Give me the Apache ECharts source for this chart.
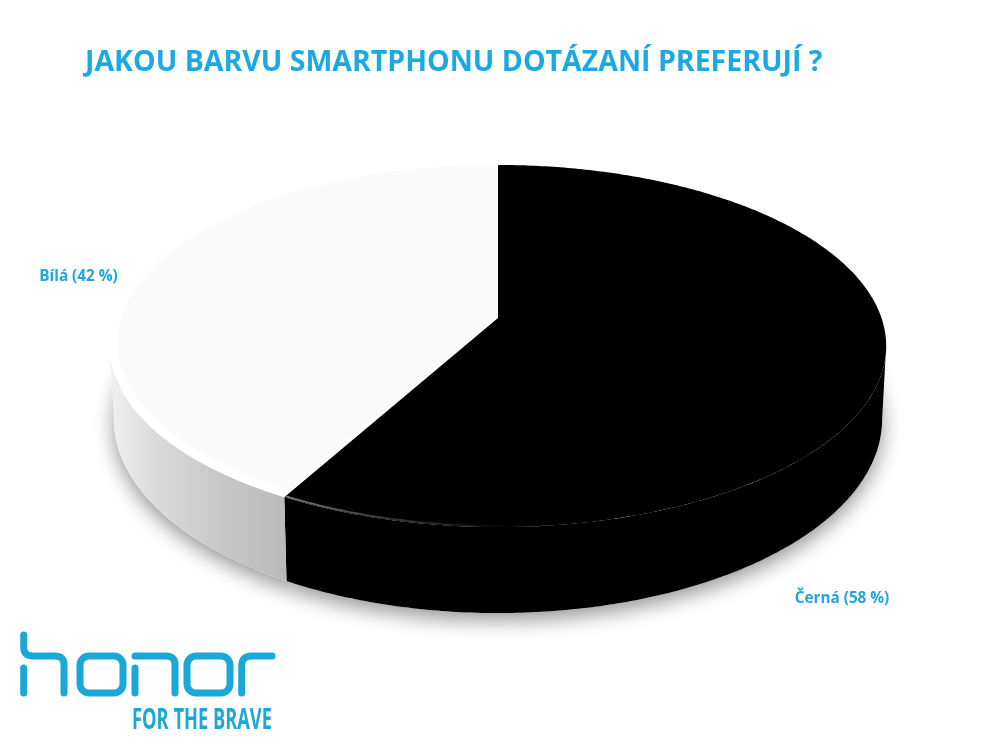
<!DOCTYPE html>
<html>
<head>
<meta charset="utf-8">
<style>html,body{margin:0;padding:0;background:#fff}#c{width:997px;height:751px}</style>
<script src="https://cdn.jsdelivr.net/npm/echarts@6/dist/echarts.min.js"></script>
</head>
<body>
<div id="c"></div>
<script>
const titleText = 'JAKOU BARVU SMARTPHONU DOTÁZANÍ PREFERUJÍ ?';
const categories = ['Černá', 'Bílá'];
const shares = [58, 42];
const logoWord = 'FOR THE BRAVE';

const BLUE = '#1aa9e2';
const TOP = { x0: 498, y0: 318, a: 383.5, b: 176.7, k: 0.1547 };
const BOTTOM = { x0: 498, y0: 389, a: 379.5, b: 189.4, k: 0.1547 };
const LABEL_POS = [[842, 598.5], [78.5, 276.5]];
const total = shares.reduce((s, v) => s + v, 0);
const SIDE_R = Math.acos(-TOP.k), SIDE_L = 2 * Math.PI - SIDE_R;

function project(p, theta, r) {
  const u = r * Math.sin(theta), v = -r * Math.cos(theta);
  const w = 1 - p.k * v;
  return [p.x0 + p.a * u / w, p.y0 + p.b * v / w];
}
function arc(p, t0, t1, r) {
  const n = Math.max(4, Math.ceil(Math.abs(t1 - t0) * 90)), out = [];
  for (let i = 0; i <= n; i++) out.push(project(p, t0 + (t1 - t0) * i / n, r));
  return out;
}
function grad(x0, x1, stops) {
  return new echarts.graphic.LinearGradient(x0, 0, x1, 0,
    stops.map(s => ({ offset: s[0], color: s[1] })), true);
}
function renderSlice(params, api) {
  const i = params.dataIndex;
  const before = shares.slice(0, i).reduce((s, v) => s + v, 0);
  const t0 = before / total * 2 * Math.PI;
  const t1 = (before + api.value(0)) / total * 2 * Math.PI;
  const w0 = Math.max(t0, SIDE_R), w1 = Math.min(t1, SIDE_L);
  const apexTop = [TOP.x0, TOP.y0], apexBot = [BOTTOM.x0, BOTTOM.y0];
  const isBlack = i === 0;
  const children = [];
  children.push({
    type: 'polygon', z2: 1,
    shape: { points: [apexBot].concat(arc(BOTTOM, t0, t1, 1)) },
    style: { fill: '#fff', shadowColor: 'rgba(0,0,0,0.42)', shadowBlur: 20, shadowOffsetY: 7, shadowOffsetX: 0 }
  });
  children.push({
    type: 'polygon', z2: 2,
    shape: { points: arc(TOP, w0, w1, 1).concat(arc(BOTTOM, w1, w0, 1)) },
    style: {
      fill: isBlack ? '#000' : grad(112, 289, [[0, '#f0f0f0'], [0.25, '#dadada'], [0.6, '#c8c8c8'], [1, '#b9b9b9']])
    }
  });
  children.push({
    type: 'polygon', z2: isBlack ? 5 : 3,
    shape: { points: [apexTop].concat(arc(TOP, t0, t1, 1)) },
    style: { fill: isBlack ? '#000' : '#fff' }
  });
  if (isBlack) {
    children.push({
      type: 'polyline', z2: 6,
      shape: { points: arc(TOP, t1, Math.PI * 0.93, 0.995) },
      style: { fill: 'none', lineWidth: 1.8, stroke: grad(287, 520, [[0, '#7a7a7a'], [0.4, '#3a3a3a'], [1, '#000']]) }
    });
  } else {
    const inner = [apexTop].concat(arc(TOP, t0, t1, 0.98)).map(q => [q[0], q[1] - 3]);
    children.push({
      type: 'polygon', z2: 4,
      shape: { points: inner },
      style: { fill: '#fafafa' }
    });
  }
  children.push({
    type: 'text', z2: 7,
    style: {
      x: LABEL_POS[i][0], y: LABEL_POS[i][1],
      text: categories[i] + ' (' + api.value(0) + ' %)',
      fill: '#22a5dc', align: 'center', verticalAlign: 'middle',
      font: 'bold 15.3px "Open Sans", sans-serif'
    }
  });
  return { type: 'group', children };
}

function rounded(pts, r) {
  const out = [pts[0]];
  for (let i = 1; i < pts.length - 1; i++) {
    const [a, b, c] = [pts[i - 1], pts[i], pts[i + 1]];
    const d1 = Math.hypot(a[0] - b[0], a[1] - b[1]), d2 = Math.hypot(c[0] - b[0], c[1] - b[1]);
    const s = [b[0] + (a[0] - b[0]) * r / d1, b[1] + (a[1] - b[1]) * r / d1];
    const e = [b[0] + (c[0] - b[0]) * r / d2, b[1] + (c[1] - b[1]) * r / d2];
    for (let j = 0; j <= 8; j++) {
      const t = j / 8, m = 1 - t;
      out.push([m * m * s[0] + 2 * m * t * b[0] + t * t * e[0], m * m * s[1] + 2 * m * t * b[1] + t * t * e[1]]);
    }
  }
  out.push(pts[pts.length - 1]);
  return out;
}
const LOGO_BLUE = '#1ba8d6';
function stroke(pts, r) {
  return { type: 'polyline', shape: { points: rounded(pts, r) },
    style: { fill: 'none', stroke: LOGO_BLUE, lineWidth: 7, lineCap: 'round', lineJoin: 'round' } };
}
function ring(x, y, w, h, r) {
  return { type: 'rect', shape: { x, y, width: w, height: h, r },
    style: { fill: 'none', stroke: LOGO_BLUE, lineWidth: 7 } };
}
const logo = [
  stroke([[23.7, 635], [23.7, 656], [64, 656], [64, 693]], 9),
  stroke([[23.7, 668], [23.7, 693]], 1),
  ring(80, 656, 43, 37, 9),
  stroke([[135, 668], [135, 693]], 1),
  stroke([[135, 656], [175, 656], [175, 693]], 9),
  ring(187, 656, 43, 37, 9),
  stroke([[241.7, 693], [241.7, 656], [272, 656]], 10),
  { type: 'text', x: 132, y: 706, scaleX: 0.63, scaleY: 1.0,
    style: { text: logoWord, fill: LOGO_BLUE, font: 'bold 29px "Open Sans", sans-serif' } }
];

const chart = echarts.init(document.getElementById('c'), null, { renderer: 'canvas' });
chart.setOption({
  animation: false,
  backgroundColor: '#fff',
  title: {
    text: titleText, left: 80, top: 43,
    textStyle: { color: BLUE, fontSize: 28.5, fontWeight: 'bold', fontFamily: '"Open Sans", sans-serif' }
  },
  graphic: logo,
  series: [{
    type: 'custom',
    coordinateSystem: 'none',
    renderItem: renderSlice,
    data: shares.map(v => [v])
  }]
});
</script>
</body>
</html>
